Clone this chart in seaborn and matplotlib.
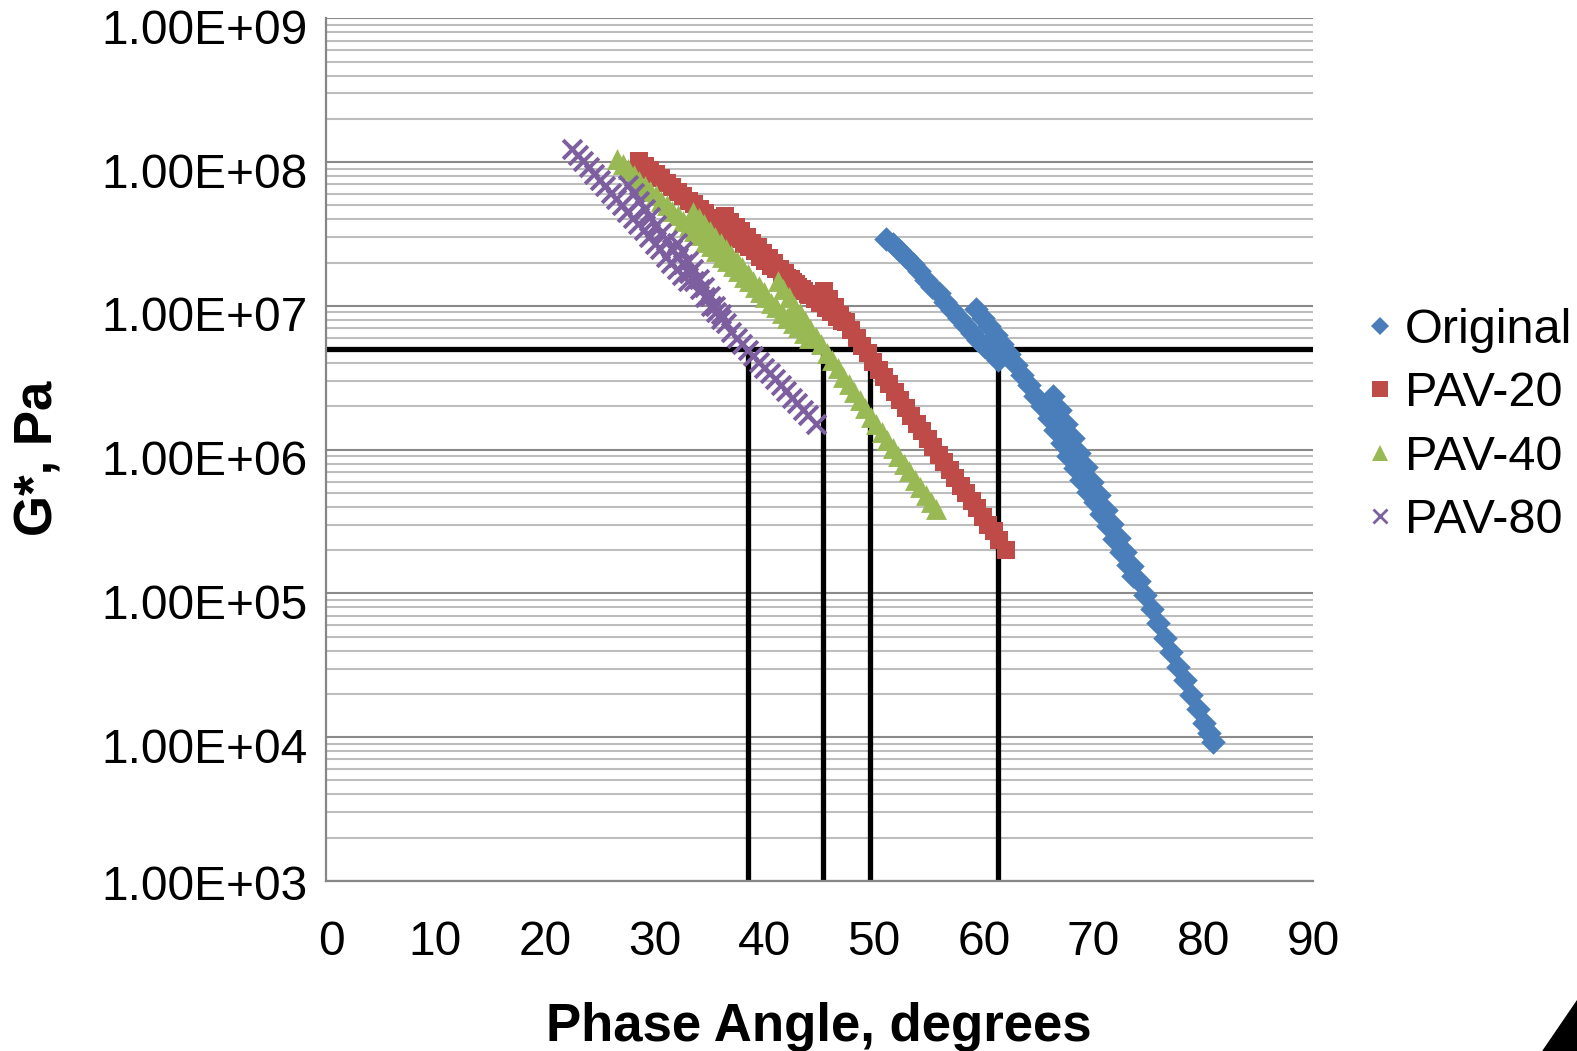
import matplotlib
matplotlib.use("Agg")
import matplotlib.pyplot as plt
import matplotlib.ticker as mticker
from matplotlib.lines import Line2D
from matplotlib.patches import Polygon
from matplotlib.transforms import ScaledTranslation
import seaborn as sns
import pandas as pd

# ---------------- data ----------------
series_names = ["Original", "PAV-20", "PAV-40", "PAV-80"]

orig_phase = [51.1, 51.7, 52.3, 52.9, 53.5, 54.1, 54.7, 55.3, 55.9, 56.5, 57.1, 57.7, 58.3, 58.9, 59.5, 60.1, 60.7, 61.3,
              59.3, 59.9, 60.5, 61.1, 61.7, 62.3, 62.9, 63.5, 64.1, 64.7, 65.3, 65.9, 66.5, 67.1, 67.7, 68.3, 68.9, 69.5,
              70.1, 70.7, 71.3, 71.9, 72.5, 73.1, 73.6,
              66.3, 66.9, 67.5, 68.1, 68.7, 69.3, 69.9, 70.5, 71.1, 71.7, 72.3, 72.9, 73.5, 74.1, 74.7, 75.3, 75.9, 76.5,
              77.1, 77.7, 78.3, 78.9, 79.5, 80.1, 80.5, 80.9]
orig_g = [2.93e7, 2.7e7, 2.45e7, 2.2e7, 1.96e7, 1.74e7, 1.52e7, 1.35e7, 1.23e7, 1.07e7, 9.3e6, 8.3e6, 7.4e6, 6.5e6, 5.8e6,
          5.2e6, 4.7e6, 4.2e6,
          9.5e6, 8.3e6, 7.2e6, 6.3e6, 5.4e6, 4.6e6, 3.9e6, 3.3e6, 2.8e6, 2.35e6, 2.0e6, 1.66e6, 1.38e6, 1.12e6, 9.1e5,
          7.4e5, 6.2e5, 5.1e5, 4.3e5, 3.55e5, 2.95e5, 2.4e5, 1.95e5, 1.58e5, 1.32e5,
          2.37e6, 1.89e6, 1.5e6, 1.2e6, 9.5e5, 7.6e5, 6.0e5, 4.8e5, 3.8e5, 3.05e5, 2.43e5, 1.93e5, 1.54e5, 1.22e5,
          9.8e4, 7.8e4, 6.2e4, 4.9e4, 3.9e4, 3.1e4, 2.5e4, 1.98e4, 1.57e4, 1.25e4, 1.07e4, 9.3e3]

pav20_phase = [28.6, 29.1, 29.6, 30.1, 30.6, 31.1, 31.6, 32.1, 32.6, 33.1, 33.6, 34.1, 34.6, 35.1, 35.6, 36.1, 36.6, 37.1,
               37.6, 38.1, 38.6, 39.1, 39.6, 40.1, 40.6, 41.1, 41.6, 42.1, 42.6, 43.1, 43.6, 44.1, 44.6, 45.1, 45.6,
               46.1, 46.6, 47.1,
               36.4, 36.9, 37.4, 37.9, 38.4, 38.9, 39.4, 39.9, 40.4, 40.9, 41.4, 41.9, 42.4, 42.9, 43.4, 44.0,
               45.4, 45.9, 46.4, 46.9, 47.4, 47.9, 48.4, 48.9, 49.4, 49.9, 50.4, 50.9, 51.4, 51.9, 52.4, 52.9, 53.4,
               53.9, 54.4, 54.9, 55.4, 55.9, 56.4, 56.9, 57.4, 57.9, 58.4, 58.9, 59.4, 59.9, 60.4, 60.9, 61.4, 62.0]
pav20_g = [1.01e8, 9.4e7, 8.8e7, 8.2e7, 7.7e7, 7.2e7, 6.7e7, 6.2e7, 5.8e7, 5.4e7, 5.1e7, 4.7e7, 4.4e7, 4.1e7, 3.85e7,
           3.6e7, 3.35e7, 3.1e7, 2.9e7, 2.7e7, 2.55e7, 2.4e7, 2.2e7, 2.05e7, 1.9e7, 1.8e7, 1.7e7, 1.57e7, 1.46e7,
           1.36e7, 1.27e7, 1.19e7, 1.11e7, 1.04e7, 9.7e6, 9.0e6, 8.4e6, 7.9e6,
           4.2e7, 3.85e7, 3.55e7, 3.3e7, 3.0e7, 2.75e7, 2.55e7, 2.35e7, 2.15e7, 2.0e7, 1.8e7, 1.68e7, 1.55e7, 1.43e7,
           1.32e7, 1.2e7,
           1.26e7, 1.11e7, 9.8e6, 8.7e6, 7.7e6, 6.8e6, 6.0e6, 5.3e6, 4.7e6, 4.1e6, 3.6e6, 3.2e6, 2.85e6, 2.5e6, 2.2e6,
           1.95e6, 1.72e6, 1.52e6, 1.34e6, 1.19e6, 1.05e6, 9.2e5, 8.2e5, 7.2e5, 6.4e5, 5.6e5, 5.0e5, 4.4e5, 3.9e5,
           3.4e5, 3.0e5, 2.7e5, 2.35e5, 2.0e5]

pav40_phase = [26.6, 27.1, 27.6, 28.1, 28.6, 29.1, 29.6, 30.1, 30.6, 31.1, 31.6, 32.1, 32.6, 33.1, 33.6, 34.1, 34.6, 35.1,
               35.6, 36.1, 36.6, 37.1, 37.6, 38.1, 38.6, 39.1, 39.6, 40.1, 40.6, 41.1, 41.6, 42.1, 42.6, 43.1, 43.6, 44.1,
               33.5, 34.0, 34.5, 35.0, 35.5, 36.0, 36.5, 37.0, 37.5, 38.0, 38.5, 39.0, 39.5, 40.0,
               41.2, 41.7, 42.2, 42.7, 43.2, 43.7, 44.2, 44.7, 45.2, 45.7, 46.2, 46.7, 47.2, 47.7, 48.2, 48.7, 49.2,
               49.7, 50.2, 50.7, 51.2, 51.7, 52.2, 52.7, 53.2, 53.7, 54.2, 54.7, 55.2, 55.6]
pav40_g = [1.05e8, 9.7e7, 8.9e7, 8.1e7, 7.4e7, 6.8e7, 6.3e7, 5.9e7, 5.4e7, 5.0e7, 4.6e7, 4.3e7, 3.9e7, 3.6e7, 3.3e7,
           3.1e7, 2.8e7, 2.6e7, 2.4e7, 2.2e7, 2.05e7, 1.9e7, 1.75e7, 1.6e7, 1.48e7, 1.35e7, 1.25e7, 1.15e7, 1.05e7,
           9.8e6, 8.9e6, 8.3e6, 7.6e6, 7.1e6, 6.5e6, 6.0e6,
           4.5e7, 4.1e7, 3.7e7, 3.3e7, 3.0e7, 2.75e7, 2.5e7, 2.25e7, 2.05e7, 1.85e7, 1.66e7, 1.5e7, 1.38e7, 1.25e7,
           1.48e7, 1.3e7, 1.15e7, 1.0e7, 8.9e6, 7.9e6, 6.9e6, 6.1e6, 5.4e6, 4.7e6, 4.2e6, 3.7e6, 3.2e6, 2.85e6, 2.5e6,
           2.2e6, 1.95e6, 1.7e6, 1.5e6, 1.33e6, 1.17e6, 1.03e6, 9.1e5, 8.0e5, 7.1e5, 6.2e5, 5.5e5, 4.8e5, 4.3e5, 3.85e5]

pav80_phase = [22.5, 23.0, 23.5, 24.0, 24.5, 25.0, 25.5, 26.0, 26.5, 27.0, 27.5, 28.0, 28.5, 29.0, 29.5, 30.0, 30.5, 31.0,
               31.5, 32.0, 32.5, 33.0,
               27.6, 28.1, 28.6, 29.1, 29.6, 30.1, 30.6, 31.1, 31.6, 32.1, 32.6, 33.1, 33.6, 34.1, 34.6, 35.1, 35.6, 36.0,
               32.0, 32.5, 33.0, 33.5, 34.0, 34.5, 35.0, 35.5, 36.0, 36.5, 37.0, 37.5, 38.0, 38.5, 39.0, 39.5, 40.0,
               40.5, 41.0, 41.5, 42.0, 42.5, 43.0, 43.5, 44.0, 44.7]
pav80_g = [1.24e8, 1.12e8, 1.02e8, 9.2e7, 8.3e7, 7.5e7, 6.8e7, 6.1e7, 5.5e7, 5.0e7, 4.5e7, 4.1e7, 3.7e7, 3.35e7, 3.0e7,
           2.7e7, 2.5e7, 2.2e7, 2.0e7, 1.8e7, 1.65e7, 1.5e7,
           6.9e7, 6.1e7, 5.4e7, 4.7e7, 4.15e7, 3.65e7, 3.2e7, 2.85e7, 2.5e7, 2.2e7, 1.95e7, 1.7e7, 1.5e7, 1.3e7,
           1.15e7, 1.0e7, 9.0e6, 8.1e6,
           2.75e7, 2.4e7, 2.05e7, 1.8e7, 1.55e7, 1.35e7, 1.17e7, 1.0e7, 8.8e6, 7.6e6, 6.6e6, 6.0e6, 5.45e6, 4.95e6,
           4.5e6, 4.1e6, 3.7e6, 3.4e6, 3.1e6, 2.8e6, 2.55e6, 2.3e6, 2.1e6, 1.9e6, 1.73e6, 1.51e6]

ref_modulus = 5.0e6                       # horizontal reference level, Pa
ref_phases = [38.5, 45.3, 49.6, 61.3]     # phase angles where each curve meets it

x_ticks = [0, 10, 20, 30, 40, 50, 60, 70, 80, 90]
y_ticks = [1e3, 1e4, 1e5, 1e6, 1e7, 1e8, 1e9]

colors = {"Original": "#4A7EBB", "PAV-20": "#BE4B48", "PAV-40": "#98B954", "PAV-80": "#7D5FA0"}
markers = {"Original": "D", "PAV-20": "s", "PAV-40": "^", "PAV-80": "x"}
sizes = {"Original": 12.5, "PAV-20": 13.5, "PAV-40": 15.0, "PAV-80": 13.5}
legend_sizes = {"Original": 9.0, "PAV-20": 11.0, "PAV-40": 11.5, "PAV-80": 10.0}

frames = []
for name, ph, g in [("Original", orig_phase, orig_g), ("PAV-20", pav20_phase, pav20_g),
                    ("PAV-40", pav40_phase, pav40_g), ("PAV-80", pav80_phase, pav80_g)]:
    frames.append(pd.DataFrame({"phase": ph, "gstar": g, "series": name}))
df = pd.concat(frames, ignore_index=True)

# ---------------- style ----------------
sns.set_style("white")
plt.rcParams["font.family"] = ["Liberation Sans", "DejaVu Sans"]
plt.rcParams["text.color"] = "black"
plt.rcParams["axes.labelcolor"] = "black"

W, H = 1577, 1051
fig = plt.figure(figsize=(W / 100, H / 100), dpi=100)
ax = fig.add_axes([325.5 / W, 1 - 881 / H, (1313 - 325.5) / W, (881 - 18.3) / H])

ax.set_yscale("log")
ax.set_xlim(0, 90)
ax.set_ylim(1e3, 1e9)

grid_major = "#8A8A8A"
grid_minor = "#BDBDBD"
ax.yaxis.set_major_locator(mticker.FixedLocator(y_ticks))
ax.yaxis.set_minor_locator(mticker.LogLocator(base=10, subs=[2, 3, 4, 5, 6, 7, 8, 9]))
ax.yaxis.set_minor_formatter(mticker.NullFormatter())
ax.yaxis.set_major_formatter(mticker.FuncFormatter(lambda v, p: f"{v:.2E}"))
ax.set_xticks(x_ticks)
ax.grid(False)
ax.yaxis.grid(True, which="major", color=grid_major, lw=1.5, zorder=0)
ax.yaxis.grid(True, which="minor", color=grid_minor, lw=1.5, zorder=0)
ax.set_axisbelow(True)

for s in ["top", "right"]:
    ax.spines[s].set_visible(False)
for s in ["left", "bottom"]:
    ax.spines[s].set_color("#868686")
    ax.spines[s].set_linewidth(1.6)

ax.tick_params(axis="both", which="major", direction="out", length=7, width=1.5, color="#868686",
               labelsize=34.5, labelcolor="black")
ax.tick_params(axis="y", which="major", pad=6)
ax.tick_params(axis="x", which="major", pad=21)
ax.tick_params(axis="y", which="minor", length=0)

# reference lines (under the markers)
ax.axhline(ref_modulus, color="black", lw=3.8, zorder=2)
ax.vlines(ref_phases, 1e3, ref_modulus, color="black", lw=3.8, zorder=2)

# data series
for name in series_names:
    sub = df[df["series"] == name]
    m = markers[name]
    if m == "x":
        sns.scatterplot(data=sub, x="phase", y="gstar", marker=m, color=colors[name],
                        s=sizes[name] ** 2, linewidth=2.8, ax=ax, zorder=3, legend=False)
    else:
        sns.scatterplot(data=sub, x="phase", y="gstar", marker=m, color=colors[name],
                        s=sizes[name] ** 2, linewidth=0, ax=ax, zorder=3, legend=False)

ax.set_xlabel("Phase Angle, degrees", fontsize=38, fontweight="bold", color="black")
ax.set_ylabel("G*, Pa", fontsize=38, fontweight="bold", color="black")
ax.xaxis.set_label_coords(0.5, -0.14)
ax.yaxis.set_label_coords(-0.291, 0.49)
ax.yaxis.label.set_verticalalignment("center")

# shift y tick labels slightly downward like the original (the bottom one stays near its tick)
for i, lab in enumerate(ax.get_yticklabels()):
    dy = -0.02 if i == 0 else -0.08
    lab.set_transform(lab.get_transform() + ScaledTranslation(0, dy, fig.dpi_scale_trans))
for lab in ax.get_xticklabels()[:1]:
    lab.set_transform(lab.get_transform() + ScaledTranslation(0.06, 0, fig.dpi_scale_trans))

# legend
handles = [Line2D([], [], linestyle="none", marker=markers[n], color=colors[n],
                  markersize=legend_sizes[n],
                  markeredgewidth=(2.0 if markers[n] == "x" else 0))
           for n in series_names]
leg = fig.legend(handles, series_names, loc="upper left", bbox_to_anchor=(1365 / W, 1 - 308 / H),
                 frameon=False, fontsize=35, handlelength=0.6, handletextpad=0.22,
                 labelspacing=0.38, borderpad=0, borderaxespad=0)
for t in leg.get_texts():
    t.set_color("black")

# decorative corner triangle from the slide
tri = Polygon([[1543 / W, 1 - 1051 / H], [1577 / W + 0.02, 1 - 955 / H], [1577 / W + 0.02, 1 - 1051 / H]],
              closed=True, transform=fig.transFigure, color="black", clip_on=False)
fig.patches.append(tri)

fig.savefig("out.png", dpi=100)
